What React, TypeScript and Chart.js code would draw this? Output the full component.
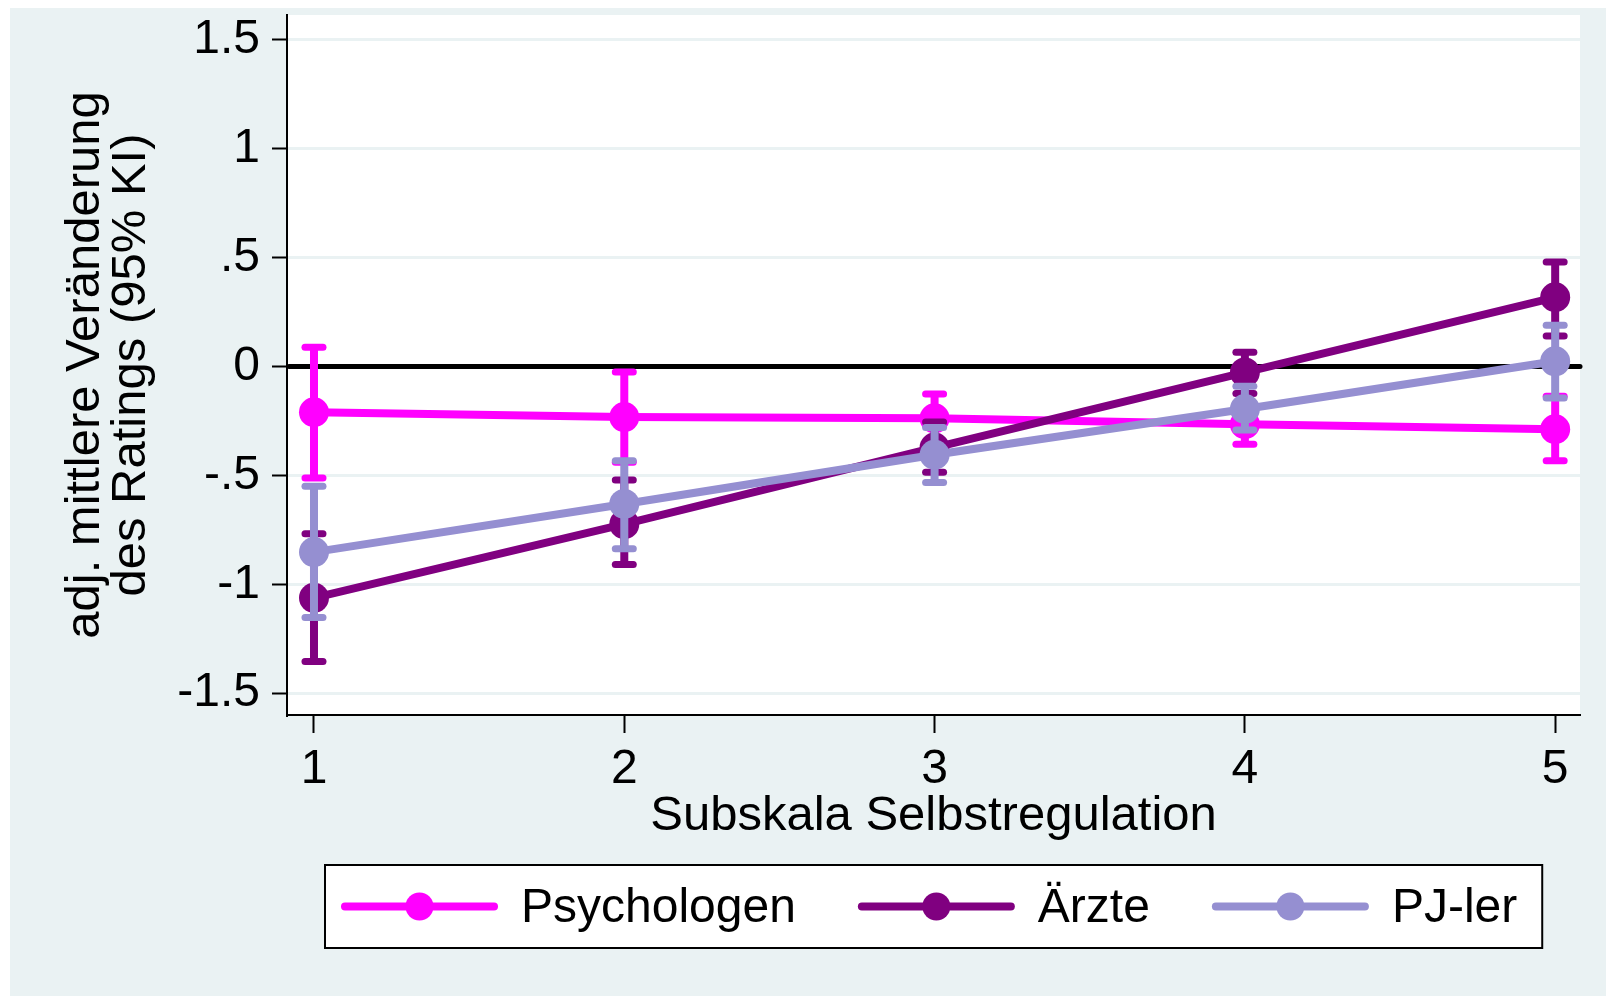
import React, { useEffect, useRef } from "react";
import { Chart, registerables } from "chart.js";

Chart.register(...registerables);

// ---- Data ----
const categories = [1, 2, 3, 4, 5];
const seriesNames = ["Psychologen", "Ärzte", "PJ-ler"];
const seriesColors = ["#FF00FF", "#800080", "#958FD1"];

const psychMean = [-0.21, -0.232, -0.238, -0.265, -0.288];
const psychLow = [-0.512, -0.44, -0.352, -0.357, -0.433];
const psychHigh = [0.088, -0.025, -0.126, -0.175, -0.136];

const aerzteMean = [-1.062, -0.724, -0.372, -0.027, 0.318];
const aerzteLow = [-1.354, -0.909, -0.486, -0.124, 0.14];
const aerzteHigh = [-0.768, -0.521, -0.255, 0.066, 0.48];

const pjMean = [-0.852, -0.631, -0.405, -0.195, 0.024];
const pjLow = [-1.152, -0.837, -0.532, -0.292, -0.144];
const pjHigh = [-0.55, -0.433, -0.28, -0.09, 0.19];

const yTicks = [-1.5, -1, -0.5, 0, 0.5, 1, 1.5];
const yTickLabels = ["-1.5", "-1", "-.5", "0", ".5", "1", "1.5"];
const xTicks = [1, 2, 3, 4, 5];
const xTickLabels = ["1", "2", "3", "4", "5"];

const xTitle = "Subskala Selbstregulation";
const yTitle = ["adj. mittlere Veränderung", "des Ratings (95% KI)"];
const refLineValue = 0;

const FONT = '"Liberation Sans", Arial, sans-serif';
const BG = "#EAF2F3";

const means = [psychMean, aerzteMean, pjMean];
const lows = [psychLow, aerzteLow, pjLow];
const highs = [psychHigh, aerzteHigh, pjHigh];

const backgroundPlugin = {
  id: "bgPlugin",
  beforeDraw(chart: any) {
    const { ctx, width, height, chartArea } = chart;
    ctx.save();
    ctx.fillStyle = "#FFFFFF";
    ctx.fillRect(0, 0, width, height);
    ctx.fillStyle = BG;
    ctx.fillRect(10, 8, width - 10, height - 8);
    ctx.fillStyle = "#FFFFFF";
    ctx.fillRect(
      chartArea.left,
      chartArea.top,
      chartArea.right - chartArea.left,
      chartArea.bottom - chartArea.top
    );
    ctx.restore();
  },
};

const refLinePlugin = {
  id: "refLine",
  beforeDatasetsDraw(chart: any) {
    const { ctx, chartArea, scales } = chart;
    const y = scales.y.getPixelForValue(refLineValue);
    ctx.save();
    ctx.strokeStyle = "#000000";
    ctx.lineWidth = 5;
    ctx.lineCap = "round";
    ctx.beginPath();
    ctx.moveTo(chartArea.left + 2, y);
    ctx.lineTo(chartArea.right, y);
    ctx.stroke();
    ctx.restore();
  },
};

const errorBarPlugin = {
  id: "errorBars",
  beforeDatasetDraw(chart: any, args: any) {
    const ds = chart.data.datasets[args.index];
    const { ctx, scales } = chart;
    const lo = ds.ciLow as number[];
    const hi = ds.ciHigh as number[];
    if (!lo || !hi) return;
    ctx.save();
    ctx.strokeStyle = ds.borderColor;
    categories.forEach((c, i) => {
      const x = scales.x.getPixelForValue(c);
      const y1 = scales.y.getPixelForValue(lo[i]);
      const y2 = scales.y.getPixelForValue(hi[i]);
      ctx.lineWidth = 8;
      ctx.lineCap = "butt";
      ctx.beginPath();
      ctx.moveTo(x, y1);
      ctx.lineTo(x, y2);
      ctx.stroke();
      ctx.lineWidth = 7;
      ctx.lineCap = "round";
      [y1, y2].forEach((yy) => {
        ctx.beginPath();
        ctx.moveTo(x - 9, yy);
        ctx.lineTo(x + 9, yy);
        ctx.stroke();
      });
    });
    ctx.restore();
  },
};

const legendPlugin = {
  id: "customLegend",
  afterDraw(chart: any) {
    const { ctx, chartArea } = chart;
    const ds = chart.data.datasets;
    ctx.save();
    ctx.font = `48px ${FONT}`;
    const lineLen = 157;
    const lead = 16;
    const gapText = 23;
    const itemGap = 62;
    const trail = 25;
    const widths = ds.map((d: any) => ctx.measureText(d.label).width);
    let total = lead + trail;
    widths.forEach((w: number, i: number) => {
      total += lineLen + gapText + w;
      if (i < widths.length - 1) total += itemGap;
    });
    const cx = (chartArea.left + chartArea.right) / 2;
    const boxLeft = Math.round(cx - total / 2);
    const boxTop = 865;
    const boxH = 83;
    ctx.fillStyle = "#FFFFFF";
    ctx.fillRect(boxLeft, boxTop, total, boxH);
    ctx.strokeStyle = "#000000";
    ctx.lineWidth = 2;
    ctx.strokeRect(boxLeft, boxTop, total, boxH);
    const cy = boxTop + boxH / 2;
    let x = boxLeft + lead;
    ds.forEach((d: any, i: number) => {
      ctx.strokeStyle = d.borderColor;
      ctx.lineWidth = 8;
      ctx.lineCap = "round";
      ctx.beginPath();
      ctx.moveTo(x + 4, cy);
      ctx.lineTo(x + lineLen - 4, cy);
      ctx.stroke();
      ctx.fillStyle = d.borderColor;
      ctx.beginPath();
      ctx.arc(x + lineLen / 2, cy, 14, 0, Math.PI * 2);
      ctx.fill();
      x += lineLen + gapText;
      ctx.fillStyle = "#000000";
      ctx.textBaseline = "middle";
      ctx.textAlign = "left";
      ctx.fillText(d.label, x, cy + 2);
      x += widths[i] + itemGap;
    });
    ctx.restore();
  },
};

export default function App() {
  const canvasRef = useRef<HTMLCanvasElement | null>(null);

  useEffect(() => {
    const canvas = canvasRef.current;
    if (!canvas) return;
    Chart.defaults.font.family = FONT;
    const datasets = seriesNames.map((name, s) => ({
      type: "line" as const,
      label: name,
      data: categories.map((c, i) => ({ x: c, y: means[s][i] })),
      borderColor: seriesColors[s],
      backgroundColor: seriesColors[s],
      pointBackgroundColor: seriesColors[s],
      pointBorderWidth: 0,
      pointRadius: 15,
      borderWidth: 8,
      borderCapStyle: "round" as const,
      borderJoinStyle: "round" as const,
      tension: 0,
      fill: false,
      order: seriesNames.length - s,
      ciLow: lows[s],
      ciHigh: highs[s],
    }));

    const chart = new Chart(canvas, {
      type: "line",
      data: { datasets: datasets as any },
      plugins: [backgroundPlugin, refLinePlugin, errorBarPlugin, legendPlugin],
      options: {
        animation: false,
        responsive: false,
        devicePixelRatio: 1,
        events: [],
        layout: { padding: { left: 10, top: 10, right: 26, bottom: 150 } },
        plugins: {
          legend: { display: false },
          tooltip: { enabled: false },
        },
        scales: {
          x: {
            type: "linear",
            min: 0.913,
            max: 5.08,
            afterBuildTicks: (s: any) => {
              s.ticks = xTicks.map((v) => ({ value: v }));
            },
            afterFit: (s: any) => {
              s.height = 131;
              s.paddingLeft = 0;
              s.paddingRight = 0;
            },
            ticks: {
              callback: (v: any) => xTickLabels[xTicks.indexOf(Number(v))] ?? "",
              font: { size: 48 },
              color: "#000000",
              padding: 8,
              maxRotation: 0,
              autoSkip: false,
            },
            grid: {
              drawOnChartArea: false,
              color: "#000000",
              tickColor: "#000000",
              tickWidth: 2,
              tickLength: 18,
            },
            border: { color: "#000000", width: 2 },
            title: {
              display: true,
              text: xTitle,
              color: "#000000",
              font: { size: 49 },
              padding: { top: 0, bottom: 0 },
            },
          },
          y: {
            type: "linear",
            min: -1.6,
            max: 1.614,
            afterBuildTicks: (s: any) => {
              s.ticks = yTicks.map((v) => ({ value: v }));
            },
            afterFit: (s: any) => {
              s.width = 277;
              s.paddingTop = 0;
              s.paddingBottom = 0;
            },
            ticks: {
              callback: (v: any) => yTickLabels[yTicks.indexOf(Number(v))] ?? "",
              font: { size: 48 },
              color: "#000000",
              padding: 12,
              autoSkip: false,
            },
            grid: {
              color: BG,
              lineWidth: 3,
              tickColor: "#000000",
              tickWidth: 2,
              tickLength: 15,
            },
            border: { color: "#000000", width: 2 },
            title: {
              display: true,
              text: yTitle,
              color: "#000000",
              font: { size: 49, lineHeight: "46px" },
              padding: { top: 52, bottom: 0 },
            },
          },
        },
      },
    });
    return () => chart.destroy();
  }, []);

  return (
    <div style={{ position: "fixed", left: 0, top: 0, width: 1606, height: 996 }}>
      <canvas ref={canvasRef} width={1606} height={996} style={{ display: "block" }} />
    </div>
  );
}
